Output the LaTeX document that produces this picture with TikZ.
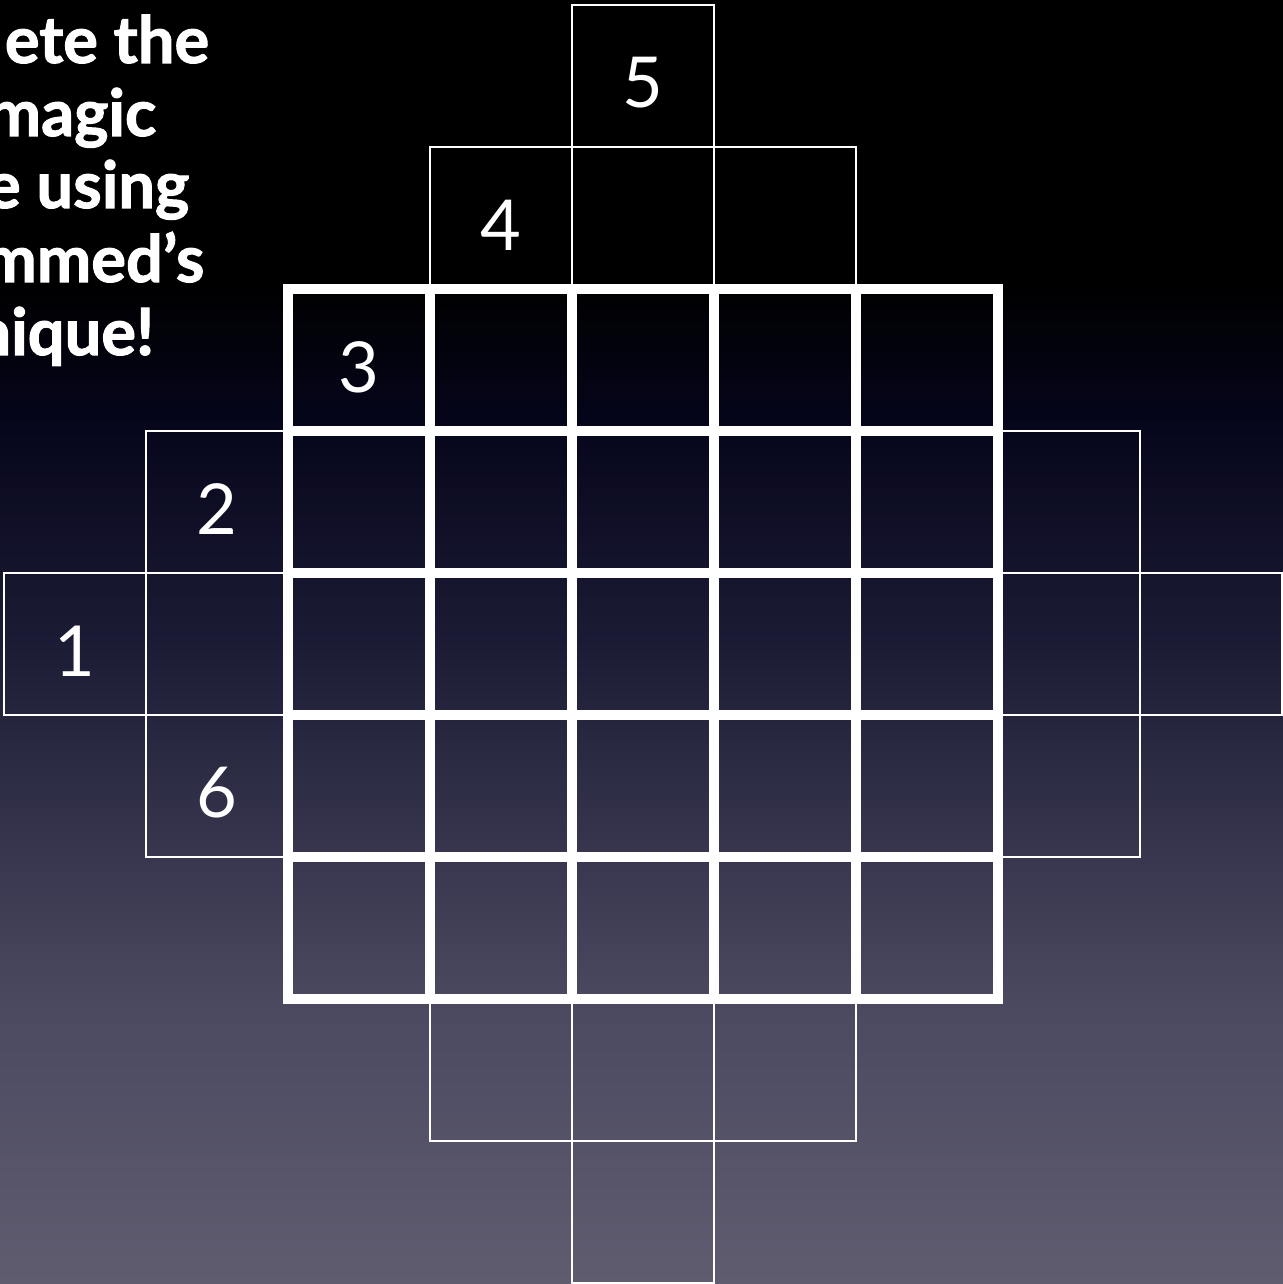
\documentclass[tikz,border=0pt]{standalone}
\usepackage{fontspec}
\setmainfont{Lato}
\newfontfamily\heavyfont{Lato}[BoldFeatures={FakeBold=1.6}]
\usepackage{tikz}
\usetikzlibrary{positioning}
\definecolor{BgNavy}{HTML}{05051B}
\definecolor{BgIndigo}{HTML}{1C1B35}
\definecolor{BgSlate}{HTML}{4A4960}
\definecolor{BgGray}{HTML}{605C70}
\tikzset{
  cell/.style  = {draw=white, line width=0.7pt},
  frame/.style = {draw=white, line width=2.8pt, line cap=rect},
  digit/.style = {text=white, font=\fontsize{20}{24}\selectfont, inner sep=0pt},
  title/.style = {text=white, font=\fontsize{18.5}{21}\heavyfont\bfseries,
                  anchor=base east, inner sep=0pt},
}

\begin{document}
\begin{tikzpicture}
  \useasboundingbox (0,0) rectangle (12.83,12.84);
  \clip (0,0) rectangle (12.83,12.84);
  % background
  \fill[black] (0,10.03) rectangle (12.83,12.84);
  \shade[top color=black, bottom color=BgNavy] (0,8.63) rectangle (12.83,10.04);
  \shade[top color=BgNavy, bottom color=BgIndigo] (0,6.43) rectangle (12.83,8.64);
  \shade[top color=BgIndigo, bottom color=BgSlate] (0,2.83) rectangle (12.83,6.44);
  \shade[top color=BgSlate, bottom color=BgGray] (0,0) rectangle (12.83,2.84);
  % title, cut at the left edge
  \node[title] (t1) at (2.10,12.21) {ete the};
  \node[title] (t2) at (1.57,11.48) {magic};
  \node[title] (t3) at (1.90,10.76) {e using};
  \node[title] (t4) at (2.05,10.02) {mmed’s};
  \node[title] (t5) at (1.55,9.29) {nique!};
  % diamond of cells
  \begin{scope}[shift={(0.04,12.79)}, x=1.42cm, y=-1.42cm]
    \foreach \r in {0,...,8}
      \foreach \c in {0,...,8} {
        \pgfmathtruncatemacro\celldist{abs(\c-4)+abs(\r-4)}
        \ifnum\celldist<5 \draw[cell] (\c,\r) rectangle ++(1,1); \fi
      }
    \foreach \k in {2,...,7} {
      \draw[frame] (\k,2) -- (\k,7);
      \draw[frame] (2,\k) -- (7,\k);
    }
    \node[digit] (n1) at (0.5,4.55) {1};
    \node[digit] (n2) at (1.5,3.55) {2};
    \node[digit] (n3) at (2.5,2.55) {3};
    \node[digit] (n4) at (3.5,1.55) {4};
    \node[digit] (n5) at (4.5,0.55) {5};
    \node[digit] (n6) at (1.5,5.55) {6};
  \end{scope}
\end{tikzpicture}
\end{document}
